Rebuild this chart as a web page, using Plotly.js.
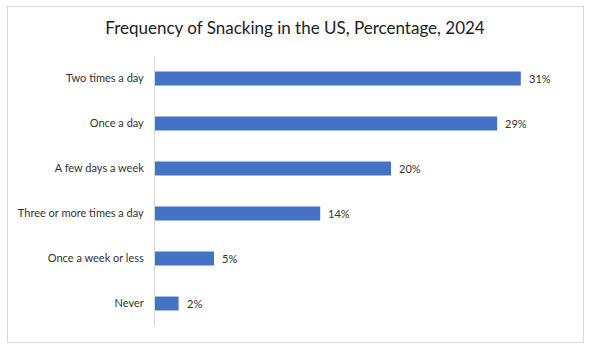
<!DOCTYPE html>
<html><head><meta charset="utf-8">
<script src="https://cdn.plot.ly/plotly-3.0.1.min.js"></script>
<style>
html,body{margin:0;padding:0;background:#fff;}
#wrap{position:relative;width:590px;height:350px;}
#chart{width:590px;height:350px;}
#frame{position:absolute;left:7px;top:6px;width:575px;height:335px;border:1px solid #d9d9d9;pointer-events:none;}
</style>
</head><body>
<div id="wrap"><div id="chart"></div><div id="frame"></div></div>
<script>
const categories = ["Two times a day","Once a day","A few days a week","Three or more times a day","Once a week or less","Never"];
const values = [31, 29, 20, 14, 5, 2];
const labels = values.map(v => v + "%");

const font = "Lato, 'Open Sans', sans-serif";
const cats = categories.slice().reverse();
const vals = values.slice().reverse();
const labs = labels.slice().reverse();

const trace = {
  type: "bar", orientation: "h",
  x: vals, y: cats,
  marker: {color: "#4472C4"},
  width: 0.31,
  hoverinfo: "none"
};
const annotations = vals.map((v, i) => ({
  x: v, y: cats[i], xref: "x", yref: "y",
  text: labs[i], showarrow: false, xanchor: "left", xshift: 6,
  font: {family: font, size: 11, color: "#333"}
}));
const layout = {
  width: 590, height: 350,
  margin: {l: 155, r: 22, t: 56, b: 24},
  paper_bgcolor: "#fff", plot_bgcolor: "#fff",
  title: {text: "Frequency of Snacking in the US, Percentage, 2024", x: 0.5, xanchor: "center", y: 0.92, yanchor: "middle",
          font: {family: font, size: 17, color: "#222"}},
  xaxis: {range: [0, 35], visible: false, fixedrange: true},
  yaxis: {type: "category", showline: true, linecolor: "#d9d9d9", linewidth: 1, ticks: "", showgrid: false,
          zeroline: false, ticklabelstandoff: 8, tickfont: {family: font, size: 11, color: "#333"}, fixedrange: true},
  annotations: annotations,
  showlegend: false
};
Plotly.newPlot("chart", [trace], layout, {displayModeBar: false, staticPlot: true});
</script>
</body></html>
